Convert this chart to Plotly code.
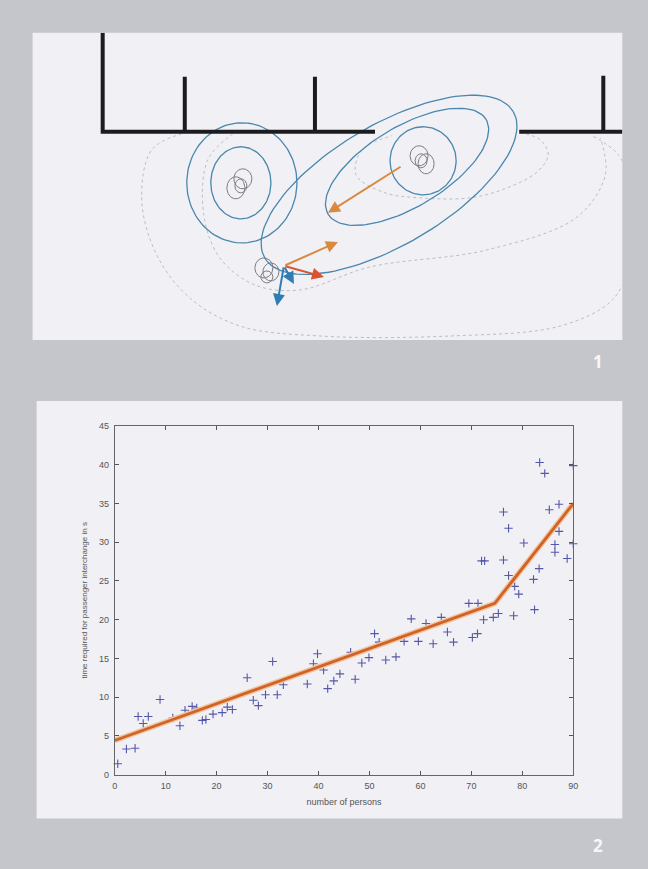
import numpy as np
import plotly.graph_objects as go

# ---------------- Panel 2 data ----------------
persons = [0.6, 2.3, 4.0, 4.6, 5.6, 6.6, 8.9, 11.4, 12.8, 13.8, 15.2, 16.1, 17.2, 17.9, 19.3,
           21.1, 22.1, 23.1, 26.0, 27.2, 28.2, 29.6, 31.0, 31.9, 33.1, 37.8, 39.0, 39.8, 41.0,
           41.8, 43.0, 44.2, 46.3, 47.2, 48.5, 49.9, 51.0, 51.9, 53.2, 55.2, 56.8, 58.2, 59.6,
           61.1, 62.5, 64.1, 65.3, 66.5, 69.5, 70.2, 71.3, 72.0, 72.4, 72.6, 74.3, 75.3, 76.3,
           76.3, 77.3, 77.3, 78.3, 78.5, 79.3, 80.3, 82.2, 82.4, 83.3, 83.4, 84.4, 85.3, 86.4,
           86.4, 87.2, 87.2, 88.8, 90.0, 90.0, 71.2]
times = [1.4, 3.3, 3.4, 7.5, 6.6, 7.5, 9.7, 7.3, 6.3, 8.3, 8.8, 8.6, 7.0, 7.1, 7.8,
         8.0, 8.7, 8.4, 12.5, 9.6, 8.9, 10.3, 14.6, 10.3, 11.6, 11.7, 14.3, 15.6, 13.5,
         11.1, 12.1, 13.0, 15.8, 12.3, 14.4, 15.1, 18.2, 17.1, 14.8, 15.2, 17.2, 20.1, 17.2,
         19.5, 16.9, 20.3, 18.4, 17.1, 22.1, 17.7, 22.1, 27.6, 20.0, 27.6, 20.3, 20.8, 33.9,
         27.7, 31.8, 25.7, 20.5, 24.3, 23.3, 29.9, 25.2, 21.3, 26.6, 40.3, 38.9, 34.2, 29.7,
         28.7, 34.9, 31.4, 27.9, 39.9, 29.8, 18.2]
fit_x = [0, 74.6, 90]
fit_y = [4.4, 22.1, 35.0]
x_ticks = list(range(0, 91, 10))
y_ticks = list(range(0, 46, 5))

# ---------------- Panel 1 diagram data (pixel-like units) ----------------
black_segments = [
    ([103, 103, 375], [33, 132, 132]),
    ([185, 185], [77, 132]),
    ([315, 315], [77, 132]),
    ([519, 622], [132, 132]),
    ([603, 603], [76, 132]),
]
# (cx, cy, semi-major, semi-minor, angle deg)
blue_ellipses = [
    (241, 183, 30, 36, 0),
    (242, 183, 55, 60, 0),
    (423, 161, 33, 34, 0),
    (407, 167, 92, 40, 31),
    (389, 185, 144, 60, 30.5),
]
grey_circles = [
    (236, 188, 9, 11), (243, 179, 9, 10), (241, 186, 6, 7),
    (419, 156, 9, 10), (426, 164, 8, 10), (421, 161, 6, 7),
    (264, 268, 9, 10), (271, 272, 8, 9), (267, 277, 6, 6),
]
grey_contours = [
    ([182, 152, 142, 157, 190, 240, 320, 450, 560, 612, 632],
     [134, 150, 200, 255, 298, 326, 336, 336, 326, 300, 260]),
    ([632, 618, 592], [190, 155, 136]),
    ([233, 208, 204, 220, 255, 300, 370, 487, 577, 605, 600],
     [134, 160, 215, 258, 285, 290, 267, 250, 217, 175, 138]),
    ([520, 540, 548, 537, 507, 470, 420, 385, 356, 362, 392],
     [133, 140, 155, 172, 188, 198, 198, 193, 175, 150, 136]),
]
# (tail x, tail y, head x, head y, colour)
arrows = [
    (402, 166, 328, 213, "#d98a3e"),
    (284, 266, 338, 242, "#d98a3e"),
    (284, 266, 324, 277, "#d9532e"),
    (284, 266, 277, 306, "#2f7db3"),
    (284, 266, 294, 284, "#2f7db3"),
]

W, H = 648, 869


# page-position helpers (compensate the capture's small scale/offset)
def fx(v):
    return ((v - 3.45) / 0.9864) / W


def fy(v):
    return 1 - ((v - 5.4) / 0.9873) / H


fig = go.Figure()

# panel 1 traces
for xs, ys in grey_contours:
    fig.add_trace(go.Scatter(x=xs, y=ys, mode="lines", xaxis="x2", yaxis="y2",
                             line=dict(color="#bcbcc4", width=1, dash="dot", shape="spline"),
                             hoverinfo="skip"))
t = np.linspace(0, 2 * np.pi, 121)
for cx, cy, a, b, ang in blue_ellipses:
    th = np.radians(ang)
    ex = cx + a * np.cos(t) * np.cos(th) - b * np.sin(t) * np.sin(th)
    ey = cy - (a * np.cos(t) * np.sin(th) + b * np.sin(t) * np.cos(th))
    fig.add_trace(go.Scatter(x=ex, y=ey, mode="lines", xaxis="x2", yaxis="y2",
                             line=dict(color="#4a86ad", width=1.3), hoverinfo="skip"))
for cx, cy, a, b in grey_circles:
    fig.add_trace(go.Scatter(x=cx + a * np.cos(t), y=cy + b * np.sin(t), mode="lines",
                             xaxis="x2", yaxis="y2",
                             line=dict(color="#7c7c80", width=1), hoverinfo="skip"))
for xs, ys in black_segments:
    fig.add_trace(go.Scatter(x=xs, y=ys, mode="lines", xaxis="x2", yaxis="y2",
                             line=dict(color="#1c1c1e", width=4), hoverinfo="skip"))

annotations = []
for tx, ty, hx, hy, col in arrows:
    annotations.append(dict(x=hx, y=hy, ax=tx, ay=ty, xref="x2", yref="y2",
                            axref="x2", ayref="y2", text="", showarrow=True,
                            arrowhead=2, arrowsize=1.2, arrowwidth=2, arrowcolor=col))

# panel 2 traces
fig.add_trace(go.Scatter(x=persons, y=times, mode="markers", cliponaxis=False,
                         marker=dict(symbol="cross-thin", size=6,
                                     line=dict(color="#5557aa", width=1.1)),
                         hoverinfo="skip"))
fig.add_trace(go.Scatter(x=fit_x, y=fit_y, mode="lines",
                         line=dict(color="#f2c4a0", width=5.5), hoverinfo="skip"))
fig.add_trace(go.Scatter(x=fit_x, y=fit_y, mode="lines",
                         line=dict(color="#cf6426", width=2.8), hoverinfo="skip"))

for txt, xp, yp in (("1", 598, 361), ("2", 598, 845)):
    annotations.append(dict(x=fx(xp), y=fy(yp), xref="paper", yref="paper",
                            xanchor="center", yanchor="middle",
                            text=txt, showarrow=False,
                            font=dict(family="Open Sans", size=17, color="#f7f7f9",
                                      weight="bold")))

panel_bg = "#f0f0f5"
shapes = [
    dict(type="rect", xref="paper", yref="paper", x0=fx(33), x1=fx(622),
         y0=fy(340), y1=fy(33), fillcolor=panel_bg, line=dict(width=0),
         layer="below"),
    dict(type="rect", xref="paper", yref="paper", x0=fx(37), x1=fx(622),
         y0=fy(818), y1=fy(401), fillcolor=panel_bg, line=dict(width=0),
         layer="below"),
]

tickfont = dict(family="Liberation Sans", size=9, color="#555")
axis_common = dict(ticks="inside", ticklen=4, tickcolor="#555", showline=True,
                   linecolor="#666", linewidth=1, mirror="ticks", showgrid=False,
                   zeroline=False, tickfont=tickfont, ticklabelstandoff=3)

fig.update_layout(
    width=W, height=H, margin=dict(l=0, r=0, t=0, b=0),
    paper_bgcolor="#c5c6cb", plot_bgcolor="rgba(0,0,0,0)",
    showlegend=False, shapes=shapes, annotations=annotations,
    xaxis=dict(domain=[fx(115), fx(573)], range=[0, 90], tickvals=x_ticks,
               title=dict(text="number of persons", standoff=8,
                          font=dict(family="Liberation Sans", size=9, color="#555")),
               anchor="y", **axis_common),
    yaxis=dict(domain=[fy(774), fy(426)], range=[0, 45], tickvals=y_ticks,
               title=dict(text="time required for passenger interchange in s", standoff=10,
                          font=dict(family="Liberation Sans", size=8, color="#555")),
               anchor="x", **axis_common),
    xaxis2=dict(domain=[fx(33), fx(622)], range=[33, 622], visible=False, anchor="y2"),
    yaxis2=dict(domain=[fy(340), fy(33)], range=[340, 33], visible=False,
                anchor="x2"),
)

fig.write_html(
    "out.html",
    config={"displayModeBar": False, "staticPlot": True},
    post_script=(
        "var s=document.createElement('style');"
        "s.textContent='html,body{margin:0;padding:0;overflow:hidden;"
        "width:648px;height:869px;background:#c5c6cb;}';"
        "document.head.appendChild(s);"
    ),
)
